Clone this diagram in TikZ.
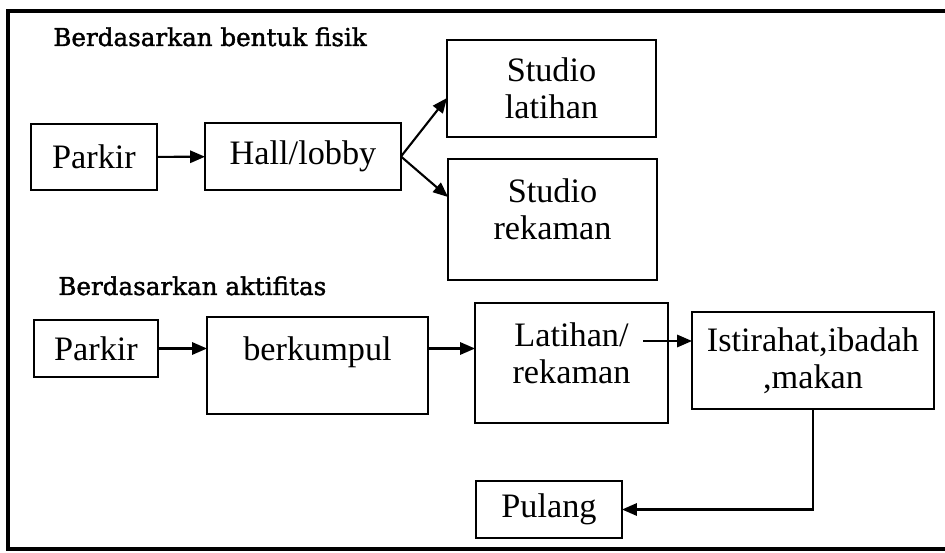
\documentclass[tikz,border=0pt]{standalone}
\usepackage{fontspec}
\setmainfont{Liberation Serif}
\newfontfamily\headfont[FakeBold=1.6]{DejaVu Serif}
\usetikzlibrary{arrows.meta}
\newcommand*\boxline{1.2pt}
\newcommand*\tipsize{8.5pt}
\newcommand*\boxfont{\fontsize{19.5}{21}\selectfont}
\tikzset{
    box/.style     = {draw, line width=\boxline, inner sep=0pt, outer sep=0pt,
                      align=center, font=\boxfont},
    % text sits near the top edge instead of the middle
    topbox/.style  = {box, label={[font=\boxfont, align=center, anchor=north,
                      inner sep=0pt, yshift=-11pt]north:#1}},
    flow/.style    = {line width=\boxline, -{Triangle[length=\tipsize, width=7pt]}},
    heading/.style = {anchor=base west, inner sep=0pt,
                      font=\headfont\fontsize{14}{16}\selectfont},
  }

\begin{document}
\begin{tikzpicture}[x=0.02cm, y=-0.02cm]
      \useasboundingbox (0,0) rectangle (945,553);

      % open frame: top, left and bottom sides only
      \draw[line width=2pt] (945,11) -- (8,11) -- (8,549) -- (945,549);

      % --- by physical form ---
      \node[heading] (hfisik) at (53,46) {Berdasarkan bentuk fisik};
      \node[box, minimum width=2.52cm, minimum height=1.32cm] (park1) at (94,157)   {Parkir};
      \node[box, minimum width=3.92cm, minimum height=1.34cm] (hall)  at (303,156.5) {Hall/lobby};
      \node[box, minimum width=4.18cm, minimum height=1.94cm] (latS)  at (551.5,88.5) {Studio\\latihan};
      \node[topbox={Studio\\rekaman}, minimum width=4.18cm, minimum height=2.42cm] (rekS) at (552.5,219.5) {};

      \draw[flow] (park1) -- (hall);
      \draw[flow] (hall.east) -- ([yshift=-5.4pt]latS.west);
      \draw[flow] (hall.east) -- ([yshift=12.8pt]rekS.west);

      % --- by activity ---
      \node[heading] (haktif) at (58,295) {Berdasarkan aktifitas};
      \node[box, minimum width=2.48cm, minimum height=1.14cm] (park2) at (96,348.5) {Parkir};
      \node[topbox={berkumpul}, minimum width=4.42cm, minimum height=1.94cm] (kumpul) at (317.5,365.5) {};
      \node[topbox={Latihan/\\rekaman}, minimum width=3.86cm, minimum height=2.4cm] (latihan) at (571.5,363) {};
      \node[box, minimum width=4.84cm, minimum height=1.94cm] (ist) at (813,360.5) {Istirahat,ibadah\\,makan};
      \node[box, minimum width=2.92cm, minimum height=1.14cm] (pulang) at (549,509.5) {Pulang};

      \coordinate (lr) at (643,341);

      \draw[flow] (park2) -- (park2 -| kumpul.west);
      \draw[flow] (park2 -| kumpul.east) -- (park2 -| latihan.west);
      \draw[flow] (lr) -- (lr -| ist.west);
      \draw[flow] (ist.south) |- (pulang.east);
    \end{tikzpicture}
\end{document}
